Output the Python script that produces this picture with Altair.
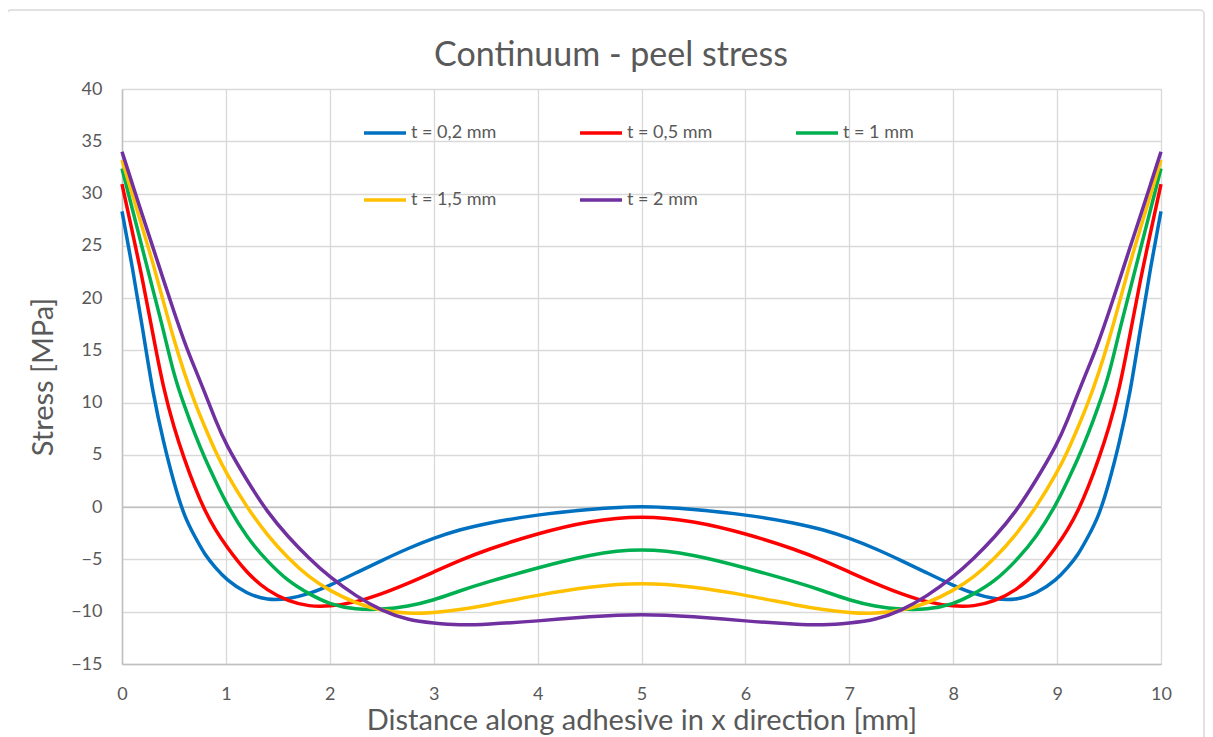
import altair as alt
import pandas as pd

# x positions (mm)
x_mm = [0, 0.1, 0.2, 0.3, 0.4, 0.5, 0.6, 0.7, 0.8, 0.9, 1.0, 1.2, 1.4, 1.6, 1.8, 2.0,
        2.25, 2.5, 2.75, 3.0, 3.25, 3.5, 4.0, 4.5, 5.0,
        5.5, 6.0, 6.5, 6.75, 7.0, 7.25, 7.5, 7.75, 8.0, 8.2, 8.4, 8.6, 8.8, 9.0,
        9.1, 9.2, 9.3, 9.4, 9.5, 9.6, 9.7, 9.8, 9.9, 10.0]

t02 = [28.3, 23.0, 17.0, 10.7, 6.2, 2.3, -0.9, -2.8, -4.6, -5.8, -6.9, -8.3, -8.9, -8.8, -8.3, -7.5,
       -6.3, -5.1, -3.95, -2.95, -2.15, -1.55, -0.7, -0.2, 0.15,
       -0.2, -0.7, -1.55, -2.15, -2.95, -3.95, -5.1, -6.3, -7.5, -8.3, -8.8, -8.9, -8.3, -6.9,
       -5.8, -4.6, -2.8, -0.9, 2.3, 6.2, 10.7, 17.0, 23.0, 28.3]

t05 = [30.9, 26.3, 21.7, 16.4, 11.3, 7.6, 4.6, 1.9, -0.4, -2.2, -3.7, -6.3, -8.0, -9.0, -9.5, -9.5,
       -9.1, -8.3, -7.3, -6.2, -5.1, -4.1, -2.5, -1.3, -0.8,
       -1.3, -2.5, -4.1, -5.1, -6.2, -7.3, -8.3, -9.1, -9.5, -9.5, -9.0, -8.0, -6.3, -3.7,
       -2.2, -0.4, 1.9, 4.6, 7.6, 11.3, 16.4, 21.7, 26.3, 30.9]

t10 = [32.4, 28.5, 24.6, 20.7, 16.9, 12.6, 9.7, 7.0, 4.6, 2.5, 0.4, -2.9, -5.2, -7.1, -8.3, -9.3,
       -9.8, -9.8, -9.5, -8.9, -8.0, -7.2, -5.8, -4.5, -3.9,
       -4.5, -5.8, -7.2, -8.0, -8.9, -9.5, -9.8, -9.8, -9.3, -8.3, -7.1, -5.2, -2.9, 0.4,
       2.5, 4.6, 7.0, 9.7, 12.6, 16.9, 20.7, 24.6, 28.5, 32.4]

t15 = [33.2, 29.9, 26.6, 23.3, 19.6, 16.0, 12.8, 10.0, 7.6, 5.3, 3.3, 0.0, -2.7, -4.9, -6.7, -8.0,
       -9.2, -9.9, -10.2, -10.1, -9.8, -9.4, -8.4, -7.6, -7.2,
       -7.6, -8.4, -9.4, -9.8, -10.1, -10.2, -9.9, -9.2, -8.0, -6.7, -4.9, -2.7, 0.0, 3.3,
       5.3, 7.6, 10.0, 12.8, 16.0, 19.6, 23.3, 26.6, 29.9, 33.2]

t20 = [34.0, 30.9, 27.8, 24.8, 21.7, 18.7, 15.8, 13.3, 10.9, 8.3, 6.0, 2.6, -0.5, -2.85, -4.9, -6.7,
       -8.5, -9.9, -10.8, -11.1, -11.3, -11.2, -10.9, -10.45, -10.2,
       -10.45, -10.9, -11.2, -11.3, -11.1, -10.8, -9.9, -8.5, -6.7, -4.9, -2.85, -0.5, 2.6, 6.0,
       8.3, 10.9, 13.3, 15.8, 18.7, 21.7, 24.8, 27.8, 30.9, 34.0]

series_names = ["t = 0,2 mm", "t = 0,5 mm", "t = 1 mm", "t = 1,5 mm", "t = 2 mm"]
series_vals = [t02, t05, t10, t15, t20]
colors = ["#0070C0", "#FF0000", "#00B050", "#FFC000", "#7030A0"]

chart_title = "Continuum - peel stress"
x_title = "Distance along adhesive in x direction [mm]"
y_title = "Stress [MPa]"

rows = []
for name, vals in zip(series_names, series_vals):
    for xv, yv in zip(x_mm, vals):
        rows.append({"x": xv, "stress": yv, "series": name})
df = pd.DataFrame(rows)

FONT = "Lato"
TXT = "#595959"
W, H = 1039, 575

lines = alt.Chart(df).mark_line(strokeWidth=3.5, interpolate="basis").encode(
    x=alt.X("x:Q",
            scale=alt.Scale(domain=[0, 10], nice=False),
            axis=alt.Axis(values=list(range(0, 11)), title=x_title,
                          grid=True, gridColor="#D9D9D9", gridWidth=1.3,
                          domainColor="#BFBFBF", domainWidth=1.5, ticks=False,
                          labelFlush=False,
                          labelFont=FONT, labelFontSize=18, labelColor=TXT, labelPadding=21,
                          titleFont=FONT, titleFontSize=29, titleFontWeight="normal",
                          titleColor=TXT, titlePadding=3)),
    y=alt.Y("stress:Q",
            scale=alt.Scale(domain=[-15, 40], nice=False),
            axis=alt.Axis(values=list(range(-15, 41, 5)), title=y_title,
                          grid=True, gridColor="#D9D9D9", gridWidth=1.3,
                          domainColor="#BFBFBF", domainWidth=1.5, ticks=False,
                          labelFont=FONT, labelFontSize=18, labelColor=TXT, labelPadding=20,
                          titleFont=FONT, titleFontSize=29, titleFontWeight="normal",
                          titleColor=TXT, titlePadding=12)),
    color=alt.Color("series:N",
                    scale=alt.Scale(domain=series_names, range=colors),
                    legend=alt.Legend(title=None, orient="none", legendX=240, legendY=21,
                                      columns=3, direction="horizontal",
                                      symbolType="stroke", symbolSize=1764, symbolStrokeWidth=3.5,
                                      labelFont=FONT, labelFontSize=18, labelColor=TXT,
                                      labelOffset=3, columnPadding=76, rowPadding=35,
                                      padding=0)),
)

zero_df = pd.DataFrame({"z": [0]})
zero_rule = alt.Chart(zero_df).mark_rule(color="#BFBFBF", strokeWidth=1.5).encode(y="z:Q")

frame_df = pd.DataFrame({"f": [1]})
frame = alt.Chart(frame_df).mark_rect(fill=None, stroke="#D9D9D9", strokeWidth=1.5,
                                      cornerRadius=4).encode(
    x=alt.value(-115), x2=alt.value(1082), y=alt.value(-79), y2=alt.value(676))

title_df = pd.DataFrame({"t": [chart_title]})
title_mark = alt.Chart(title_df).mark_text(font=FONT, fontSize=34, color=TXT,
                                           baseline="alphabetic", align="center").encode(
    text="t:N", x=alt.value(489), y=alt.value(-23))

chart = alt.layer(frame, zero_rule, lines, title_mark).properties(
    width=W, height=H,
    autosize=alt.AutoSizeParams(type="none"),
    padding={"left": 114, "top": 81, "right": 44, "bottom": 78},
).configure_view(stroke=None).configure(background="white")

chart.save("out.html", embed_options={"renderer": "svg", "actions": False})
